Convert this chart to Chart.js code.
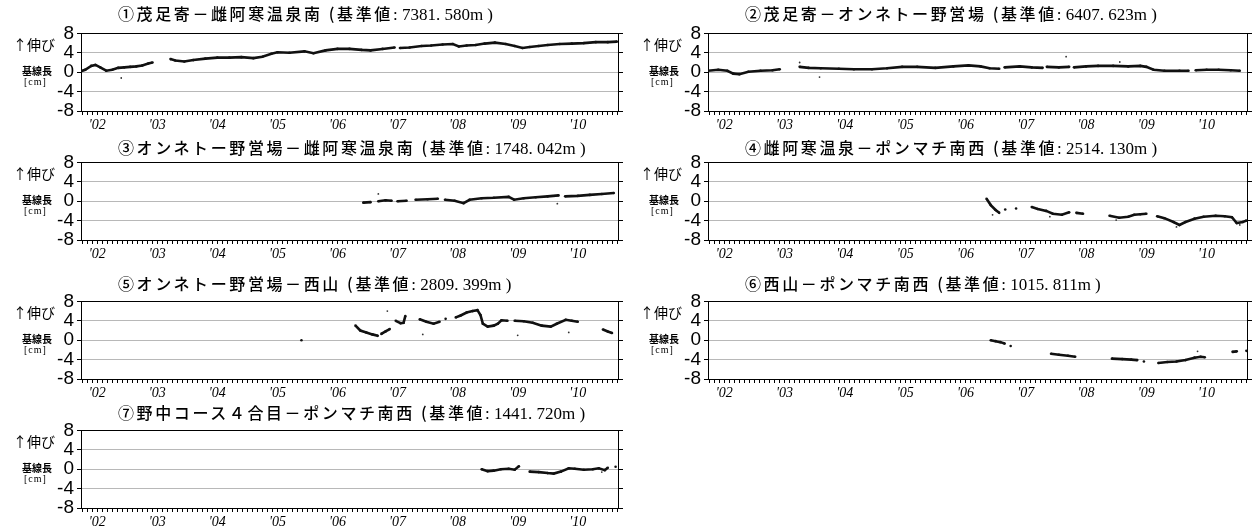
<!DOCTYPE html>
<html lang="ja">
<head>
<meta charset="utf-8">
<title>基線長変化グラフ</title>
<script src="https://cdn.jsdelivr.net/npm/chart.js@4.4.1/dist/chart.umd.min.js"></script>
<style>
  html, body { margin: 0; padding: 0; background: #fff; }
  body { width: 1255px; height: 531px; position: relative; overflow: hidden; }
  canvas { position: absolute; }
  .title { position: absolute; white-space: nowrap; font-family: 'Noto Sans CJK JP', sans-serif; font-weight: 500; font-size: 16px; letter-spacing: 2.6px; line-height: 1; color: #000; }
  .title .num { font-family: 'Liberation Serif', serif; font-weight: normal; font-size: 17px; letter-spacing: 0; }
  .up { position: absolute; font-family: 'Noto Sans CJK JP', sans-serif; font-size: 14px; line-height: 1; white-space: nowrap; }
  .base { position: absolute; font-family: 'Noto Sans CJK JP', sans-serif; font-weight: bold; font-size: 10px; line-height: 1; white-space: nowrap; }
  .unit { position: absolute; font-family: 'Liberation Serif', serif; font-size: 10px; letter-spacing: 1px; line-height: 1; white-space: nowrap; }
</style>
</head>
<body>
<script>
// ─── Axis labels ───
const years = [2002, 2003, 2004, 2005, 2006, 2007, 2008, 2009, 2010];
const yearLabels = ["'02", "'03", "'04", "'05", "'06", "'07", "'08", "'09", "'10"];
const yTicks = [-8, -4, 0, 4, 8];

// ─── Panel titles ───
const titles = [
  '①茂足寄－雌阿寒温泉南',
  '②茂足寄－オンネトー野営場',
  '③オンネトー野営場－雌阿寒温泉南',
  '④雌阿寒温泉－ポンマチ南西',
  '⑤オンネトー野営場－西山',
  '⑥西山－ポンマチ南西',
  '⑦野中コース４合目－ポンマチ南西'
];
const baseValues = ['7381. 580m', '6407. 623m', '1748. 042m', '2514. 130m', '2809. 399m', '1015. 811m', '1441. 720m'];

// ─── Series (decimal year / change in cm, null = no data) ───
const s1T = [2001.73, 2001.8, 2001.9, 2001.97, 2002.05, 2002.15, 2002.25, 2002.35, 2002.45, 2002.55, 2002.65, 2002.75, 2002.85, 2002.92, 2002.98,
  2003.22, 2003.3, 2003.45, 2003.6, 2003.8, 2004.0, 2004.2, 2004.4, 2004.6, 2004.75, 2004.9, 2005.0, 2005.2, 2005.45, 2005.6, 2005.8,
  2006.0, 2006.2, 2006.4, 2006.55, 2006.75, 2006.95, 2007.0, 2007.04, 2007.2, 2007.4, 2007.56, 2007.75, 2007.92, 2008.02, 2008.15,
  2008.3, 2008.45, 2008.62, 2008.8, 2008.95, 2009.08, 2009.2, 2009.35, 2009.5, 2009.7, 2009.9, 2010.1, 2010.3, 2010.5, 2010.65];
const s1V = [0.2, 0.5, 1.3, 1.5, 1.0, 0.3, 0.5, 0.9, 1.0, 1.1, 1.2, 1.4, 1.8, 2.0, null,
  2.7, 2.4, 2.2, 2.5, 2.8, 3.0, 3.0, 3.1, 2.9, 3.2, 3.8, 4.1, 4.0, 4.3, 3.9, 4.5,
  4.8, 4.8, 4.6, 4.5, 4.8, 5.1, null, 5.0, 5.1, 5.4, 5.5, 5.7, 5.8, 5.3, 5.5,
  5.6, 5.9, 6.1, 5.8, 5.4, 5.0, 5.2, 5.4, 5.6, 5.8, 5.9, 6.0, 6.2, 6.2, 6.3];
const o1T = [2002.4];
const o1V = [-1.2];

const s2T = [2001.73, 2001.9, 2002.05, 2002.15, 2002.25, 2002.4, 2002.6, 2002.8, 2002.92, 2003.1,
  2003.25, 2003.4, 2003.6, 2003.9, 2004.15, 2004.45, 2004.7, 2004.95, 2005.2, 2005.5, 2005.8, 2006.05, 2006.25, 2006.4, 2006.56, 2006.6,
  2006.65, 2006.9, 2007.1, 2007.28, 2007.31, 2007.35, 2007.55, 2007.72, 2007.76, 2007.8, 2008.0, 2008.2, 2008.45, 2008.7, 2008.9,
  2009.0, 2009.12, 2009.3, 2009.55, 2009.7, 2009.76, 2009.82, 2010.0, 2010.2, 2010.4, 2010.55];
const s2V = [0.3, 0.5, 0.3, -0.3, -0.4, 0.1, 0.3, 0.4, 0.6, null,
  1.1, 0.9, 0.8, 0.7, 0.6, 0.6, 0.8, 1.1, 1.1, 0.9, 1.2, 1.4, 1.2, 0.8, 0.7, null,
  1.0, 1.2, 1.0, 0.9, null, 1.1, 1.0, 1.1, null, 1.0, 1.2, 1.3, 1.3, 1.2, 1.3,
  1.1, 0.5, 0.3, 0.3, 0.3, null, 0.4, 0.5, 0.5, 0.4, 0.3];
const o2T = [2003.25, 2003.58, 2007.67, 2008.56];
const o2V = [2.0, -1.0, 3.2, 2.1];

const s3T = [2006.43, 2006.55, 2006.62, 2006.68, 2006.8, 2006.9, 2006.95, 2007.0, 2007.15, 2007.22, 2007.3, 2007.5, 2007.67, 2007.73,
  2007.79, 2007.95, 2008.1, 2008.2, 2008.4, 2008.6, 2008.85, 2008.94, 2009.1, 2009.3, 2009.5, 2009.68, 2009.73,
  2009.79, 2010.0, 2010.2, 2010.4, 2010.6];
const s3V = [-0.3, -0.2, null, 0.0, 0.2, 0.1, null, 0.0, 0.1, null, 0.3, 0.4, 0.5, null,
  0.3, 0.1, -0.4, 0.3, 0.6, 0.7, 0.9, 0.3, 0.6, 0.8, 1.0, 1.2, null,
  1.0, 1.1, 1.3, 1.5, 1.7];
const o3T = [2006.68, 2009.66];
const o3V = [1.5, -0.5];

const s4T = [2006.35, 2006.42, 2006.5, 2006.56, 2006.6, 2006.66, 2006.75, 2006.84, 2007.0, 2007.1, 2007.2, 2007.34, 2007.45, 2007.6, 2007.72, 2007.78,
  2007.84, 2007.95, 2008.2, 2008.39, 2008.55, 2008.7, 2008.8, 2008.9, 2009.0, 2009.1,
  2009.18, 2009.3, 2009.45, 2009.55, 2009.65, 2009.8, 2009.95, 2010.15, 2010.3, 2010.42, 2010.5, 2010.6, 2010.66];
const s4V = [0.5, -0.8, -1.8, -2.4, null, -1.7, null, -1.5, null, -1.2, -1.6, -2.0, -2.6, -2.8, -2.3, null,
  -2.4, -2.6, null, -3.0, -3.4, -3.2, -2.8, -2.7, -2.6, null,
  -3.1, -3.5, -4.3, -4.9, -4.3, -3.6, -3.2, -3.0, -3.1, -3.3, -4.5, -4.3, -4.0];
const o4T = [2006.45, 2007.4, 2008.5, 2009.5, 2010.55];
const o4V = [-2.8, -3.2, -3.9, -5.3, -4.9];

const s5T = [2005.4, 2005.8, 2006.3, 2006.38, 2006.48, 2006.58, 2006.67, 2006.7, 2006.73, 2006.8, 2006.87, 2006.92,
  2006.97, 2007.05, 2007.1, 2007.13, 2007.25, 2007.37, 2007.48, 2007.6, 2007.7, 2007.75, 2007.8, 2007.9,
  2007.97, 2008.05, 2008.15, 2008.25, 2008.33, 2008.38, 2008.42, 2008.5, 2008.6, 2008.67, 2008.73, 2008.83, 2008.9,
  2008.95, 2009.1, 2009.25, 2009.4, 2009.55, 2009.65, 2009.8, 2009.9, 2010.0, 2010.2, 2010.42, 2010.5, 2010.57];
const s5V = [0.0, null, 3.0, 2.0, 1.6, 1.2, 0.9, null, 1.3, 1.8, 2.3, null,
  4.0, 3.5, 3.6, 5.0, null, 4.3, 3.8, 3.4, 3.8, null, 4.4, null,
  4.7, 5.1, 5.7, 6.0, 6.2, 5.2, 3.4, 2.8, 3.0, 3.4, 4.1, 4.0, null,
  4.0, 3.9, 3.6, 3.0, 2.8, 3.4, 4.2, 4.0, 3.8, null, 2.2, 1.8, 1.5];
const o5T = [2006.83, 2007.42, 2009.0, 2009.85];
const o5V = [6.0, 1.2, 1.0, 1.6];

const s6T = [2006.42, 2006.5, 2006.58, 2006.65, 2006.7, 2006.75, 2007.1, 2007.42, 2007.55, 2007.7, 2007.82, 2008.1,
  2008.43, 2008.6, 2008.75, 2008.85, 2008.9, 2008.96, 2009.1, 2009.2, 2009.35, 2009.5, 2009.65, 2009.8, 2009.9, 2009.97, 2010.2,
  2010.43, 2010.5, 2010.58, 2010.66];
const s6V = [0.0, -0.2, -0.4, -0.7, null, -1.2, null, -2.8, -3.0, -3.2, -3.4, null,
  -3.8, -3.9, -4.0, -4.1, null, -4.4, null, -4.7, -4.5, -4.4, -4.1, -3.6, -3.4, -3.5, null,
  -2.4, -2.3, null, -2.2];
const o6T = [2009.85];
const o6V = [-2.3];

const s7T = [2008.4, 2008.5, 2008.6, 2008.72, 2008.85, 2008.95, 2009.02, 2009.1,
  2009.2, 2009.35, 2009.5, 2009.6, 2009.72, 2009.85, 2009.95, 2010.1, 2010.25, 2010.35, 2010.45, 2010.5, 2010.57, 2010.63];
const s7V = [0.0, -0.4, -0.3, 0.0, 0.1, -0.1, 0.6, null,
  -0.5, -0.6, -0.8, -0.9, -0.5, 0.2, 0.1, -0.1, 0.0, 0.2, -0.2, 0.3, null, 0.5];
const o7T = [2010.4];
const o7V = [-0.6];

// ─── Layout ───
const X_MIN = 2001.73, X_MAX = 2010.67;
const COLS = [{ plotLeft: 81, plotWidth: 537 }, { plotLeft: 708, plotWidth: 539 }];
const ROWS = [{ plotTop: 31, titleTop: 5 }, { plotTop: 160, titleTop: 139 }, { plotTop: 299, titleTop: 275 }, { plotTop: 428, titleTop: 404 }];
const PLOT_H = 80, PAD_TOP = 12, Y_AXIS_W = 50, Y2_AXIS_W = 8, X_AXIS_H = 24;

const panels = [
  { col: 0, row: 0, t: s1T, v: s1V, ot: o1T, ov: o1V },
  { col: 1, row: 0, t: s2T, v: s2V, ot: o2T, ov: o2V },
  { col: 0, row: 1, t: s3T, v: s3V, ot: o3T, ov: o3V },
  { col: 1, row: 1, t: s4T, v: s4V, ot: o4T, ov: o4V },
  { col: 0, row: 2, t: s5T, v: s5V, ot: o5T, ov: o5V },
  { col: 1, row: 2, t: s6T, v: s6V, ot: o6T, ov: o6V },
  { col: 0, row: 3, t: s7T, v: s7V, ot: o7T, ov: o7V }
];

// monthly tick marks on the time axis
const monthTicks = [];
for (let k = Math.ceil(X_MIN * 12); k <= Math.floor(X_MAX * 12); k++) monthTicks.push(k / 12);

function yearLabel(value) {
  const r = Math.round(value);
  if (Math.abs(value - r) > 1e-6) return '';
  const i = years.indexOf(r);
  return i >= 0 ? yearLabels[i] : '';
}

function addText(cls, html, left, top) {
  const d = document.createElement('div');
  d.className = cls;
  d.innerHTML = html;
  d.style.left = left + 'px';
  d.style.top = top + 'px';
  document.body.appendChild(d);
}

function makePanel(p, idx) {
  const col = COLS[p.col], row = ROWS[p.row];
  const W = Y_AXIS_W + col.plotWidth + Y2_AXIS_W;
  const H = PAD_TOP + PLOT_H + X_AXIS_H;

  const canvas = document.createElement('canvas');
  canvas.width = W; canvas.height = H;
  canvas.style.width = W + 'px'; canvas.style.height = H + 'px';
  canvas.style.left = (col.plotLeft - Y_AXIS_W) + 'px';
  canvas.style.top = (row.plotTop - PAD_TOP) + 'px';
  document.body.appendChild(canvas);

  // texts
  addText('title', `${titles[idx]} (基準値<span class="num">: ${baseValues[idx]} )</span>`, col.plotLeft + 37, row.titleTop);
  addText('up', '↑伸び', col.plotLeft - 68, row.plotTop + 6);
  addText('base', '基線長', col.plotLeft - 59, row.plotTop + 35);
  addText('unit', '[cm]', col.plotLeft - 57, row.plotTop + 46);

  const main = p.t.map((t, i) => ({ x: t, y: p.v[i] }));
  const outl = p.ot.map((t, i) => ({ x: t, y: p.ov[i] }));

  new Chart(canvas, {
    type: 'scatter',
    data: {
      datasets: [
        {
          data: main,
          showLine: true,
          spanGaps: false,
          borderColor: '#111',
          borderWidth: 2.6,
          pointRadius: 1.3,
          pointBackgroundColor: '#111',
          pointBorderWidth: 0
        },
        {
          data: outl,
          showLine: false,
          pointRadius: 0.9,
          pointBackgroundColor: '#333',
          pointBorderWidth: 0
        }
      ]
    },
    options: {
      responsive: false,
      animation: false,
      devicePixelRatio: 1,
      layout: { padding: { top: PAD_TOP, left: 0, right: 0, bottom: 0 } },
      plugins: { legend: { display: false }, tooltip: { enabled: false } },
      scales: {
        x: {
          type: 'linear',
          position: 'bottom',
          min: X_MIN,
          max: X_MAX,
          afterBuildTicks: s => { s.ticks = monthTicks.map(v => ({ value: v })); },
          afterFit: s => { s.height = X_AXIS_H; },
          grid: { drawOnChartArea: false, drawTicks: true, tickLength: 4, color: '#000', lineWidth: 1 },
          border: { display: true, color: '#000', width: 1 },
          ticks: {
            autoSkip: false, maxRotation: 0, minRotation: 0, padding: 2,
            color: '#000',
            font: { family: 'Liberation Serif', size: 14, style: 'italic' },
            callback: v => yearLabel(v)
          }
        },
        x2: {
          type: 'linear',
          position: 'top',
          min: X_MIN,
          max: X_MAX,
          afterFit: s => { s.height = 0; },
          grid: { display: false },
          border: { display: true, color: '#000', width: 1 },
          ticks: { display: false }
        },
        y: {
          position: 'left',
          min: -8,
          max: 8,
          afterBuildTicks: s => { s.ticks = yTicks.map(v => ({ value: v })); },
          afterFit: s => { s.width = Y_AXIS_W; },
          grid: {
            drawOnChartArea: true,
            tickLength: 4,
            color: c => (Math.abs(c.tick.value) === 8 ? 'rgba(0,0,0,0)' : '#b8b8b8'),
            borderDash: [3, 3],
            tickColor: '#000',
            tickBorderDash: []
          },
          border: { display: true, color: '#000', width: 1 },
          ticks: {
            autoSkip: false,
            padding: 3,
            color: '#000',
            font: { family: 'Liberation Sans', size: 19 },
            callback: v => String(v)
          }
        },
        y2: {
          position: 'right',
          min: -8,
          max: 8,
          afterBuildTicks: s => { s.ticks = yTicks.map(v => ({ value: v })); },
          afterFit: s => { s.width = Y2_AXIS_W; },
          grid: { drawOnChartArea: false, tickLength: 5, color: '#000' },
          border: { display: true, color: '#000', width: 1 },
          ticks: { display: false, autoSkip: false }
        }
      }
    }
  });
}

panels.forEach(makePanel);
</script>
</body>
</html>
